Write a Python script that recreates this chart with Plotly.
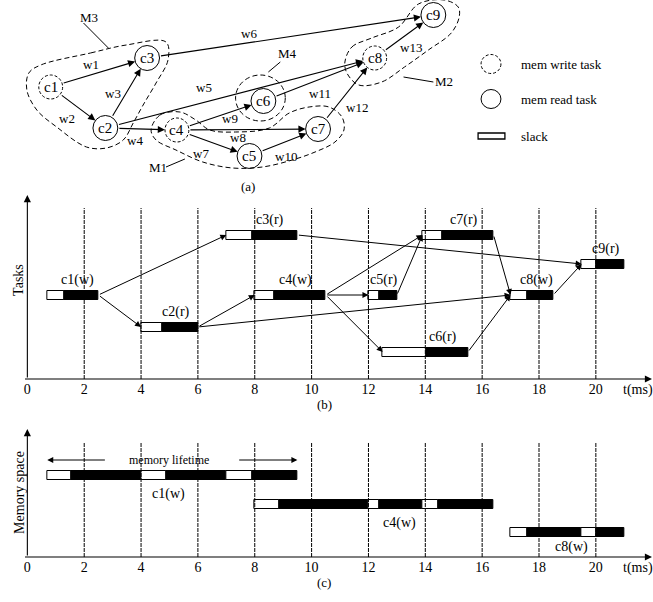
import plotly.graph_objects as go

FONT = "Liberation Serif"

# ---------------- (a) task graph ----------------
node_names = ["c1", "c2", "c3", "c4", "c5", "c6", "c7", "c8", "c9"]
node_x = [47, 102, 144, 174, 247, 261, 316, 373, 432]
node_y = [87, 128, 58, 130, 156, 101, 129, 58, 15]
node_kind = ["w", "r", "r", "w", "r", "r", "r", "w", "r"]

edge_src = ["c1", "c1", "c2", "c2", "c2", "c3", "c4", "c4", "c4", "c5", "c6", "c7", "c8"]
edge_dst = ["c3", "c2", "c3", "c4", "c8", "c9", "c5", "c7", "c6", "c7", "c8", "c8", "c9"]
edge_lbl = ["w1", "w2", "w3", "w4", "w5", "w6", "w7", "w8", "w9", "w10", "w11", "w12", "w13"]
edge_lbl_x = [88, 63, 110, 132, 201, 247, 198, 235, 227, 284, 318, 355, 410]
edge_lbl_y = [64, 118, 93, 140, 87, 33, 153, 137, 118, 156, 93, 107, 47]

# memory regions (closed dashed outlines)
m3_x = [37, 87, 123, 163, 165, 153, 140, 130, 120, 103, 83, 53, 33, 23, 25, 37]
m3_y = [65, 53, 45, 42, 60, 83, 105, 123, 140, 148, 147, 127, 110, 90, 73, 65]
m1_x = [148, 157, 177, 193, 207, 233, 267, 287, 307, 327, 340, 342, 333, 313, 290, 260, 230, 200, 173, 153, 148]
m1_y = [130, 115, 112, 120, 130, 132, 128, 113, 107, 107, 117, 130, 142, 152, 160, 167, 168, 162, 150, 140, 130]
m2_x = [343, 350, 370, 397, 417, 443, 457, 458, 450, 427, 403, 380, 357, 345, 343]
m2_y = [62, 47, 38, 27, 4, 0, 7, 17, 33, 50, 67, 82, 85, 73, 62]
m4_cx, m4_cy, m4_rx, m4_ry = 258, 98, 25, 23

region_lbl = ["M3", "M4", "M1", "M2"]
region_lbl_x = [86, 285, 155, 443]
region_lbl_y = [17, 53, 167, 81]
leader_x = [[80, 105], [278, 266], [163, 182], [432, 402]]
leader_y = [[23, 48], [62, 72], [167, 159], [82, 77]]

legend_txt = ["mem write task", "mem read task", "slack"]
legend_y = [64, 99, 136]

# ---------------- (b) schedule ----------------
tasks = ["c1", "c2", "c3", "c4", "c5", "c6", "c7", "c8", "c9"]
task_kind = ["w", "r", "r", "w", "r", "r", "r", "w", "r"]
slack_start = [0.7, 4.0, 7.0, 8.0, 12.0, 12.5, 13.9, 17.0, 19.5]
exec_start = [1.3, 4.75, 7.9, 8.7, 12.4, 14.05, 14.6, 17.6, 20.0]
exec_end = [2.5, 6.0, 9.5, 10.5, 13.0, 15.5, 16.4, 18.5, 21.0]
task_lane = [8.4, 5.2, 14.4, 8.4, 8.4, 2.7, 14.4, 8.4, 11.5]

sched_src = ["c1", "c1", "c2", "c2", "c3", "c4", "c4", "c4", "c5", "c7", "c6", "c8"]
sched_dst = ["c3", "c2", "c4", "c8", "c9", "c5", "c7", "c6", "c7", "c8", "c8", "c9"]

time_ticks = [0, 2, 4, 6, 8, 10, 12, 14, 16, 18, 20]
grid_ticks = [2, 4, 6, 8, 10, 12, 14, 16, 18, 20]

# ---------------- (c) memory space ----------------
mem_names = ["c1(w)", "c4(w)", "c8(w)"]
mem_lane = [8.15, 5.25, 2.45]
mem_bounds = [
    [0.7, 1.55, 4.0, 4.9, 7.0, 7.9, 9.5],
    [8.0, 8.87, 12.0, 12.4, 13.9, 14.45, 16.4],
    [17.0, 17.6, 19.5, 20.0, 21.0],
]
mem_lbl_x = [4.95, 13.1, 19.15]
mem_lbl_y = [6.3, 3.4, 1.0]

# ---------------- layout geometry ----------------
W, H = 653, 602
x_left, x_right = 23.5, 652.0
px_per_unit = 28.6
t_max = (x_right - x_left) / px_per_unit
b_bot, b_top = 379, 195
c_bot, c_top = 557, 429
b_ymax = (b_bot - b_top) / 10.0
c_ymax = (c_bot - c_top) / 10.0
b_grid_top = (b_bot - 208) / 10.0
c_grid_top = (c_bot - 443) / 10.0

fig = go.Figure()
annotations = []
shapes = []

# ---- (a) ----
pos = {n: (x, y) for n, x, y in zip(node_names, node_x, node_y)}
kind = dict(zip(node_names, node_kind))
rad = {"w": 12, "r": 12.5}
for n in node_names:
    x, y = pos[n]
    r = rad[kind[n]]
    shapes.append(dict(type="circle", xref="x", yref="y", x0=x - r, x1=x + r, y0=y - r, y1=y + r,
                       line=dict(color="black", width=1, dash="3px,2px" if kind[n] == "w" else "solid")))
    annotations.append(dict(x=x, y=y, xref="x", yref="y", text=n, showarrow=False,
                            font=dict(family=FONT, size=15, color="black")))

for s, d, lb, lx, ly in zip(edge_src, edge_dst, edge_lbl, edge_lbl_x, edge_lbl_y):
    xs, ys = pos[s]
    xd, yd = pos[d]
    annotations.append(dict(x=xd, y=yd, ax=xs, ay=ys, xref="x", yref="y", axref="x", ayref="y",
                            text="", showarrow=True, arrowhead=2, arrowsize=1.3, arrowwidth=1.1,
                            arrowcolor="black", standoff=rad[kind[d]], startstandoff=rad[kind[s]]))
    annotations.append(dict(x=lx, y=ly, xref="x", yref="y", text=lb, showarrow=False,
                            font=dict(family=FONT, size=13, color="black")))

for rx, ry in [(m3_x, m3_y), (m1_x, m1_y), (m2_x, m2_y)]:
    fig.add_trace(go.Scatter(x=rx, y=ry, mode="lines", xaxis="x", yaxis="y",
                             line=dict(color="black", width=1, dash="5px,3px", shape="spline", smoothing=1.0),
                             hoverinfo="skip", showlegend=False))
shapes.append(dict(type="circle", xref="x", yref="y", x0=m4_cx - m4_rx, x1=m4_cx + m4_rx,
                   y0=m4_cy - m4_ry, y1=m4_cy + m4_ry,
                   line=dict(color="black", width=1, dash="5px,3px")))

for lb, lx, ly, llx, lly in zip(region_lbl, region_lbl_x, region_lbl_y, leader_x, leader_y):
    annotations.append(dict(x=lx, y=ly, xref="x", yref="y", text=lb, showarrow=False,
                            font=dict(family=FONT, size=13, color="black")))
    fig.add_trace(go.Scatter(x=llx, y=lly, mode="lines", xaxis="x", yaxis="y",
                             line=dict(color="black", width=1), hoverinfo="skip", showlegend=False))

# legend
leg_x = 490
shapes.append(dict(type="circle", xref="x", yref="y", x0=leg_x - 10, x1=leg_x + 10,
                   y0=legend_y[0] - 9.5, y1=legend_y[0] + 9.5, line=dict(color="black", width=1, dash="3px,2px")))
shapes.append(dict(type="circle", xref="x", yref="y", x0=leg_x - 10, x1=leg_x + 10,
                   y0=legend_y[1] - 9.5, y1=legend_y[1] + 9.5, line=dict(color="black", width=1)))
shapes.append(dict(type="rect", xref="x", yref="y", x0=477, x1=504,
                   y0=legend_y[2] - 3, y1=legend_y[2] + 3, line=dict(color="black", width=1.3),
                   fillcolor="white"))
for t, y in zip(legend_txt, legend_y):
    annotations.append(dict(x=518, y=y, xref="x", yref="y", text=t, showarrow=False, xanchor="left",
                            font=dict(family=FONT, size=13, color="black")))

annotations.append(dict(x=245, y=186, xref="x", yref="y", text="(a)", showarrow=False,
                        font=dict(family=FONT, size=13, color="black")))

# ---- grid lines (b) and (c) ----
for ax_x, ax_y, top in [("x2", "y2", b_grid_top), ("x3", "y3", c_grid_top)]:
    gx, gy = [], []
    for t in grid_ticks:
        gx += [t, t, None]
        gy += [0, top, None]
    fig.add_trace(go.Scatter(x=gx, y=gy, mode="lines", xaxis=ax_x, yaxis=ax_y,
                             line=dict(color="black", width=1, dash="4px,1px"),
                             hoverinfo="skip", showlegend=False))

# ---- (b) bars ----
bar_h = 0.9
fig.add_trace(go.Bar(orientation="h", y=task_lane, base=slack_start,
                     x=[e - s for s, e in zip(slack_start, exec_start)], width=bar_h,
                     marker=dict(color="white", line=dict(color="black", width=1)),
                     xaxis="x2", yaxis="y2", showlegend=False, hoverinfo="skip"))
fig.add_trace(go.Bar(orientation="h", y=task_lane, base=exec_start,
                     x=[e - s for s, e in zip(exec_start, exec_end)], width=bar_h,
                     marker=dict(color="black", line=dict(color="black", width=1)),
                     xaxis="x2", yaxis="y2", showlegend=False, hoverinfo="skip"))

tidx = {n: i for i, n in enumerate(tasks)}
for n, k, es, ee, ln in zip(tasks, task_kind, exec_start, exec_end, task_lane):
    annotations.append(dict(x=(es + ee) / 2 - 0.15, y=ln + 1.55, xref="x2", yref="y2",
                            text=f"{n}({k})", showarrow=False,
                            font=dict(family=FONT, size=14, color="black")))
for s, d in zip(sched_src, sched_dst):
    i, j = tidx[s], tidx[d]
    annotations.append(dict(x=slack_start[j], y=task_lane[j], ax=exec_end[i], ay=task_lane[i],
                            xref="x2", yref="y2", axref="x2", ayref="y2", text="", showarrow=True,
                            arrowhead=2, arrowsize=1.2, arrowwidth=1, arrowcolor="black"))

# ---- (c) bars ----
for bnds, ln in zip(mem_bounds, mem_lane):
    starts = bnds[:-1]
    lens = [b - a for a, b in zip(bnds[:-1], bnds[1:])]
    cols = ["white" if i % 2 == 0 else "black" for i in range(len(starts))]
    fig.add_trace(go.Bar(orientation="h", y=[ln] * len(starts), base=starts, x=lens, width=bar_h,
                         marker=dict(color=cols, line=dict(color="black", width=1)),
                         xaxis="x3", yaxis="y3", showlegend=False, hoverinfo="skip"))
for nm, lx, ly in zip(mem_names, mem_lbl_x, mem_lbl_y):
    annotations.append(dict(x=lx, y=ly, xref="x3", yref="y3", text=nm, showarrow=False,
                            font=dict(family=FONT, size=14, color="black")))

life_y = 9.7
annotations.append(dict(x=4.98, y=life_y, xref="x3", yref="y3", text="memory lifetime", showarrow=False,
                        font=dict(family=FONT, size=12, color="black")))
annotations.append(dict(x=mem_bounds[0][0], y=life_y, ax=2.78, ay=life_y, xref="x3", yref="y3",
                        axref="x3", ayref="y3", text="", showarrow=True, arrowhead=2, arrowsize=1.2,
                        arrowwidth=1, arrowcolor="black"))
annotations.append(dict(x=mem_bounds[0][-1], y=life_y, ax=7.4, ay=life_y, xref="x3", yref="y3",
                        axref="x3", ayref="y3", text="", showarrow=True, arrowhead=2, arrowsize=1.2,
                        arrowwidth=1, arrowcolor="black"))

# ---- axis arrows (paper coordinates with pixel offsets) ----
for bot, top in [(b_bot, b_top), (c_bot, c_top)]:
    annotations.append(dict(x=x_right / W, y=1 - bot / H, xref="paper", yref="paper",
                            ax=-(x_right - x_left), ay=0, text="", showarrow=True, arrowhead=2,
                            arrowsize=1.3, arrowwidth=1.1, arrowcolor="black"))
    annotations.append(dict(x=x_left / W, y=1 - top / H, xref="paper", yref="paper",
                            ax=0, ay=(bot - top), text="", showarrow=True, arrowhead=2,
                            arrowsize=1.3, arrowwidth=1.1, arrowcolor="black"))
    annotations.append(dict(x=638 / W, y=1 - (bot + 11) / H, xref="paper", yref="paper", text="t(ms)",
                            showarrow=False, xanchor="center", yanchor="middle",
                            font=dict(family=FONT, size=14, color="black")))

annotations.append(dict(x=15 / W, y=1 - 280 / H, xref="paper", yref="paper", text="Tasks",
                        textangle=-90, showarrow=False, xanchor="center", yanchor="middle",
                        font=dict(family=FONT, size=14, color="black")))
annotations.append(dict(x=15 / W, y=1 - 492 / H, xref="paper", yref="paper", text="Memory space",
                        textangle=-90, showarrow=False, xanchor="center", yanchor="middle",
                        font=dict(family=FONT, size=14, color="black")))
annotations.append(dict(x=322 / W, y=1 - 414 / H, xref="paper", yref="paper", text="(b)",
                        showarrow=False, font=dict(family=FONT, size=13, color="black")))
annotations.append(dict(x=322 / W, y=1 - 592 / H, xref="paper", yref="paper", text="(c)",
                        showarrow=False, font=dict(family=FONT, size=13, color="black")))

hidden = dict(showgrid=False, zeroline=False, showline=False, showticklabels=False, ticks="", fixedrange=True)
time_axis = dict(showgrid=False, zeroline=False, showline=False, ticks="", fixedrange=True,
                 range=[0, t_max], domain=[x_left / W, x_right / W],
                 tickvals=time_ticks, ticktext=[str(t) for t in time_ticks],
                 tickfont=dict(family=FONT, size=14, color="black"))

fig.update_layout(
    width=W, height=H, autosize=False,
    margin=dict(l=0, r=0, t=0, b=0),
    paper_bgcolor="white", plot_bgcolor="rgba(0,0,0,0)",
    barmode="overlay", bargap=0,
    showlegend=False,
    xaxis=dict(hidden, range=[0, W], domain=[0, 1]),
    yaxis=dict(hidden, range=[192, 0], domain=[1 - 192 / H, 1]),
    xaxis2=dict(time_axis, anchor="y2"),
    yaxis2=dict(hidden, range=[0, b_ymax], domain=[1 - b_bot / H, 1 - b_top / H], anchor="x2"),
    xaxis3=dict(time_axis, anchor="y3"),
    yaxis3=dict(hidden, range=[0, c_ymax], domain=[1 - c_bot / H, 1 - c_top / H], anchor="x3"),
    annotations=annotations,
    shapes=shapes,
)

fig.write_html("out.html", config={"displayModeBar": False},
               post_script="document.body.style.margin='0px';")
